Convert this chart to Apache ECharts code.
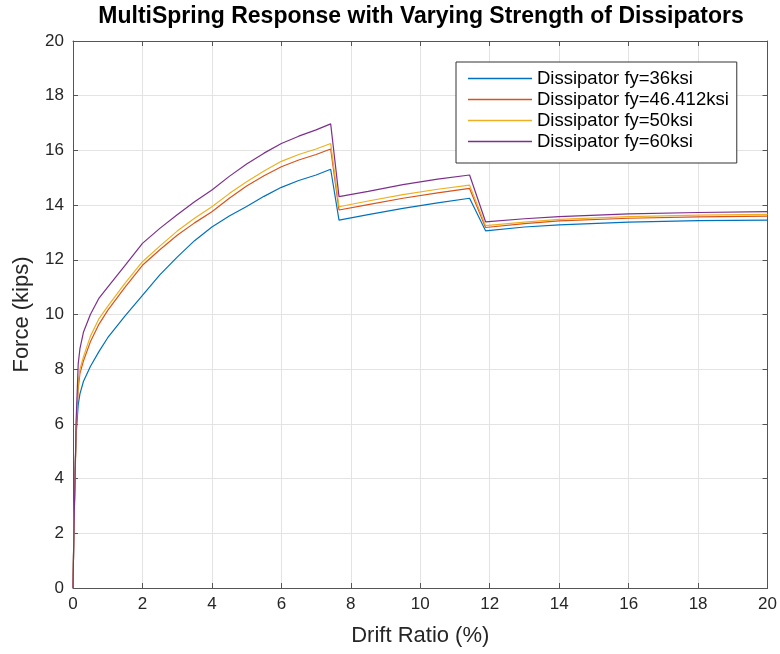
<!DOCTYPE html>
<html>
<head>
<meta charset="utf-8">
<script src="https://cdn.jsdelivr.net/npm/echarts@6/dist/echarts.min.js"></script>
<style>html,body{margin:0;padding:0;background:#fff}#chart{width:780px;height:654px}</style>
</head>
<body>
<div id="chart"></div>
<script>
var titleText = 'MultiSpring Response with Varying Strength of Dissipators';
var xName = 'Drift Ratio (%)';
var yName = 'Force (kips)';
var seriesNames = ['Dissipator fy=36ksi', 'Dissipator fy=46.412ksi', 'Dissipator fy=50ksi', 'Dissipator fy=60ksi'];
var drift = [0, 0.03, 0.06, 0.09, 0.15, 0.2, 0.3, 0.5, 0.75, 1, 1.5, 2, 2.5, 3, 3.5, 4, 4.5, 5, 5.5, 6, 6.5, 7, 7.42, 7.66, 8.5, 9.5, 10.5, 11.42, 11.88, 13, 14, 16, 18, 20];
var force36 = [0, 2.5, 4.3, 5.6, 6.7, 7.1, 7.55, 8.1, 8.65, 9.15, 9.95, 10.7, 11.45, 12.1, 12.7, 13.2, 13.6, 13.95, 14.32, 14.65, 14.9, 15.1, 15.31, 13.45, 13.65, 13.88, 14.08, 14.25, 13.06, 13.2, 13.28, 13.38, 13.43, 13.45];
var force46 = [0, 2.4, 4.0, 5.8, 7.3, 7.85, 8.3, 9.0, 9.65, 10.15, 11.0, 11.8, 12.37, 12.9, 13.35, 13.76, 14.25, 14.7, 15.07, 15.4, 15.65, 15.85, 16.05, 13.82, 14.02, 14.25, 14.45, 14.61, 13.18, 13.32, 13.42, 13.52, 13.57, 13.6];
var force50 = [0, 2.4, 4.0, 5.9, 7.5, 8.0, 8.45, 9.2, 9.85, 10.3, 11.15, 11.93, 12.5, 13.05, 13.52, 13.94, 14.42, 14.85, 15.25, 15.6, 15.85, 16.05, 16.25, 13.94, 14.15, 14.38, 14.58, 14.73, 13.25, 13.38, 13.48, 13.58, 13.63, 13.66];
var force60 = [0, 2.3, 4.1, 6.1, 8.2, 8.75, 9.35, 10.0, 10.6, 11.0, 11.8, 12.6, 13.15, 13.65, 14.12, 14.55, 15.05, 15.5, 15.9, 16.25, 16.52, 16.75, 16.97, 14.31, 14.5, 14.75, 14.95, 15.1, 13.39, 13.5, 13.58, 13.68, 13.73, 13.76];
var xTicks = [0, 2, 4, 6, 8, 10, 12, 14, 16, 18, 20];
var yTicks = [0, 2, 4, 6, 8, 10, 12, 14, 16, 18, 20];

var colors = ['#0072BD', '#D95319', '#EDB120', '#7E2F8E'];
var allForces = [force36, force46, force50, force60];
var font = 'Liberation Sans, Arial, Helvetica, sans-serif';
var axisColor = '#555555';

function pairs(xs, ys) { return xs.map(function (x, i) { return [x, ys[i]]; }); }

var chart = echarts.init(document.getElementById('chart'), null, {renderer: 'canvas'});
var baseX = {min: xTicks[0], max: xTicks[xTicks.length - 1], interval: xTicks[1] - xTicks[0]};
var baseY = {min: yTicks[0], max: yTicks[yTicks.length - 1], interval: yTicks[1] - yTicks[0]};

chart.setOption({
  animation: false,
  backgroundColor: '#ffffff',
  title: {
    text: titleText,
    left: 421,
    textAlign: 'center',
    top: 5,
    padding: 0,
    textStyle: {fontFamily: font, fontSize: 23, fontWeight: 'bold', color: '#000000'}
  },
  legend: {
    orient: 'vertical',
    left: 456,
    top: 62,
    padding: [7, 8, 12, 12],
    icon: 'rect',
    itemWidth: 64,
    itemHeight: 1.5,
    itemGap: 2,
    itemTextGap: 9,
    backgroundColor: '#ffffff',
    borderColor: '#333333',
    borderWidth: 1,
    borderRadius: 0,
    textStyle: {fontFamily: font, fontSize: 18.5, lineHeight: 18, color: '#000000'},
    data: seriesNames
  },
  grid: {left: 73, right: 10, top: 41, bottom: 66, containLabel: false},
  xAxis: [
    Object.assign({
      type: 'value', position: 'bottom',
      name: xName, nameLocation: 'middle', nameGap: 37,
      nameTextStyle: {fontFamily: font, fontSize: 22, color: '#262626'},
      axisLine: {show: true, onZero: false, lineStyle: {color: axisColor, width: 1}},
      axisTick: {show: true, inside: true, length: 5, lineStyle: {color: axisColor}},
      axisLabel: {fontFamily: font, fontSize: 17, color: '#262626', margin: 8},
      splitLine: {show: true, lineStyle: {color: '#e3e3e3', width: 1}}
    }, baseX),
    Object.assign({
      type: 'value', position: 'top',
      axisLine: {show: true, onZero: false, lineStyle: {color: axisColor, width: 1}},
      axisTick: {show: true, inside: true, length: 5, lineStyle: {color: axisColor}},
      axisLabel: {show: false},
      splitLine: {show: false}
    }, baseX)
  ],
  yAxis: [
    Object.assign({
      type: 'value', position: 'left',
      name: yName, nameLocation: 'middle', nameGap: 40, nameRotate: 90,
      nameTextStyle: {fontFamily: font, fontSize: 22, color: '#262626'},
      axisLine: {show: true, onZero: false, lineStyle: {color: axisColor, width: 1}},
      axisTick: {show: true, inside: true, length: 5, lineStyle: {color: axisColor}},
      axisLabel: {fontFamily: font, fontSize: 17, color: '#262626', margin: 9},
      splitLine: {show: true, lineStyle: {color: '#e3e3e3', width: 1}}
    }, baseY),
    Object.assign({
      type: 'value', position: 'right',
      axisLine: {show: true, onZero: false, lineStyle: {color: axisColor, width: 1}},
      axisTick: {show: true, inside: true, length: 5, lineStyle: {color: axisColor}},
      axisLabel: {show: false},
      splitLine: {show: false}
    }, baseY)
  ],
  series: seriesNames.map(function (n, i) {
    return {
      name: n,
      type: 'line',
      xAxisIndex: 0,
      yAxisIndex: 0,
      symbol: 'none',
      smooth: false,
      color: colors[i],
      lineStyle: {width: 1.2, color: colors[i]},
      data: pairs(drift, allForces[i])
    };
  })
});
</script>
</body>
</html>
